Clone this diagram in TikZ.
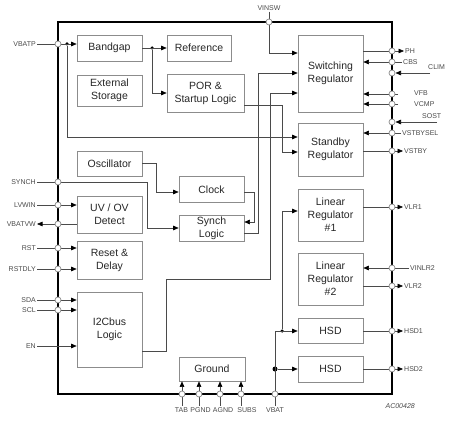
\documentclass[tikz,border=0pt]{standalone}
\usepackage{fontspec}
\setmainfont{Liberation Sans}
\usepackage{tikz}
\usetikzlibrary{arrows.meta}

\definecolor{boxgray}{HTML}{8C8C8C}
\definecolor{linegray}{HTML}{4A4A4A}
\definecolor{txtgray}{HTML}{262626}
\newcommand{\blkfont}{\fontsize{10.5}{13}\selectfont}
\newcommand{\pinfont}{\fontsize{7}{8}\selectfont}

\begin{document}
\begin{tikzpicture}[x=1pt, y=-1pt, >={Triangle[length=5.5pt,width=4.5pt,color=black]},
	blk/.style={draw=boxgray, line width=0.7pt, rectangle, align=center,
		font=\blkfont, text=txtgray, minimum width=65pt, inner sep=0pt},
	pin/.style={circle, draw=boxgray, fill=white, line width=0.7pt,
		inner sep=0pt, minimum size=6pt},
	dot/.style={circle, fill=black, inner sep=0pt, minimum size=3.5pt},
	lbl/.style={font=\pinfont, text=linegray, inner sep=1pt},
	wire/.style={draw=linegray, line width=0.6pt}]
	\useasboundingbox (0,0) rectangle (450,425);

	\def \xl {58}
	\def \xr {392}
	\def \yt {22}
	\def \yb {394}

	\draw[line width=1.8pt] (\xl,\yt) rectangle (\xr,\yb);

	\node[blk, minimum height=26pt] (bandgap)    at (109.5,48)  {Bandgap};
	\node[blk, minimum height=26pt, minimum width=64pt] (reference) at (199,48) {Reference};
	\node[blk, minimum height=31pt] (extstorage) at (109.5,90.5) {External\\Storage};
	\node[blk, minimum height=38pt, minimum width=77pt] (por) at (205.5,93)
		{POR \&\\Startup Logic};
	\node[blk, minimum height=77pt] (switching)  at (330.5,73.5) {Switching\\Regulator};
	\node[blk, minimum height=53pt] (standby)    at (330.5,149.5) {Standby\\Regulator};
	\node[blk, minimum height=52pt] (linear1)    at (330.5,215)  {Linear\\Regulator\\\#1};
	\node[blk, minimum height=52pt] (linear2)    at (330.5,279)  {Linear\\Regulator\\\#2};
	\node[blk, minimum height=25pt] (hsd1)       at (330.5,331)  {HSD};
	\node[blk, minimum height=26pt] (hsd2)       at (330.5,369)  {HSD};
	\node[blk, minimum height=25pt] (oscillator) at (109.5,163.5) {Oscillator};
	\node[blk, minimum height=26pt] (clock)      at (211.5,189.5) {Clock};
	\node[blk, minimum height=26pt] (synch)      at (211.5,228)  {Synch\\Logic};
	\node[blk, minimum height=37pt] (uvov)       at (109.5,214.5) {UV / OV\\Detect};
	\node[blk, minimum height=38pt] (reset)      at (109.5,260)  {Reset \&\\Delay};
	\node[blk, minimum height=75pt] (i2c)        at (109.5,329.5) {I2Cbus\\Logic};
	\node[blk, minimum height=24pt, minimum width=66pt] (ground) at (212,369) {Ground};

	\foreach \nm/\y/\t in {vbatp/44/VBATP, synch/182/SYNCH, lvwin/205/LVWIN,
		vbatvw/224/VBATVW, rst/248/RST, rstdly/269/RSTDLY, sda/300/SDA,
		scl/310/SCL, en/346/EN} {
		\coordinate (p\nm) at (\xl,\y);
		\node[lbl, anchor=east] (l\nm) at (37,\y) {\t};
	}
	\foreach \nm/\y/\x/\ly/\t in {ph/51/404/51/PH, cbs/62/402/62/CBS,
		clim/73/427/67/CLIM, vfb/94/413/93/VFB, vcmp/104/413/104/VCMP,
		sost/122/421/116/SOST, vstbysel/133/401/133/VSTBYSEL,
		vstby/151/403/151/VSTBY, vlr1/207/403/207/VLR1,
		vinlr2/268/409/268/VINLR2, vlr2/286/403/286/VLR2,
		hsd1/331/403/331/HSD1, hsd2/369/403/369/HSD2} {
		\coordinate (p\nm) at (\xr,\y);
		\node[lbl, anchor=west] (l\nm) at (\x,\ly) {\t};
	}
	\foreach \nm/\x/\lx/\t in {tab/182/181.5/TAB, pgnd/199/200.5/PGND,
		agnd/220/223/AGND, subs/241/247/SUBS, vbat/275/275/VBAT} {
		\coordinate (p\nm) at (\x,\yb);
		\node[lbl, anchor=north] (l\nm) at (\lx,406) {\t};
	}
	\coordinate (pvinsw) at (269,\yt);
	\node[lbl] (lvinsw) at (269,8) {VINSW};
	\coordinate (eclim) at (430,73);
	\coordinate (esost) at (437,122);

	\node[dot] (jvbatp) at (67,44) {};
	\node[dot] (jbg) at (152,48) {};
	\node[dot, minimum size=5pt] (jhsd2) at (275,369) {};
	\node[dot] (jhsd1) at (282,331) {};

	\draw[wire] (lvbatp) -- (pvbatp);
	\draw[wire, ->] (pvbatp) -- (bandgap.west |- pvbatp);
	\draw[wire, ->] (jvbatp) |- (standby.west |- 0,137);
	\draw[wire, ->] (bandgap) -- (reference);
	\draw[wire, ->] (jbg) |- (por);
	\draw[wire, ->] (por.east |- 0,105) -- (282,105) |- (standby.west |- 0,152);

	\draw[wire] (lvinsw) -- (pvinsw);
	\draw[wire, ->] (pvinsw) |- (switching.west |- 0,53);
	\draw[wire, ->] (synch.east |- 0,233) -- (258,233) |- (switching.west |- 0,73);
	\draw[wire, ->] (i2c.east |- 0,351) -- (166,351) -- (166,279) -| (270,93)
		-- (switching.west |- 0,93);

	\draw[wire, ->] (oscillator.east) -- (156,163.5) |- (clock.west |- 0,192);
	\draw[wire, ->] (clock.east |- 0,192) -- (254,192) |- (synch.east |- 0,222);
	\draw[wire] (lsynch) -- (psynch);
	\draw[wire, ->] (psynch) -- (147,182) |- (synch);

	\foreach \nm/\bx in {lvwin/uvov, rst/reset, rstdly/reset, sda/i2c, scl/i2c} {
		\draw[wire] (l\nm) -- (p\nm);
		\draw[wire, ->] (p\nm) -- (\bx.west |- p\nm);
	}
	\draw[wire, ->] (uvov.west |- pvbatvw) -- (lvbatvw);
	\draw[wire, ->] (len) -- (i2c.west |- len);

	\foreach \nm/\bx in {ph/switching, vstby/standby, vlr1/linear1,
		vlr2/linear2, hsd1/hsd1, hsd2/hsd2}
		\draw[wire, ->] (\bx.east |- p\nm) -- (l\nm);
	\foreach \nm/\bx in {cbs/switching, vstbysel/standby, vinlr2/linear2}
		\draw[wire, ->] (l\nm) -- (\bx.east |- p\nm);
	\foreach \nm in {vfb, vcmp}
		\draw[wire, ->] ([xshift=6pt]p\nm) -- (switching.east |- p\nm);
	\draw[wire, ->, shorten >=3.5pt] (eclim) -- (pclim);
	\draw[wire, ->, shorten >=3.5pt] (esost) -- (psost);

	\foreach \nm in {tab, pgnd, agnd, subs}
		\draw[wire, ->] (p\nm) -- (ground.south -| p\nm);
	\foreach \nm in {tab, pgnd, agnd, subs, vbat}
		\draw[wire] (p\nm) -- (p\nm |- l\nm.north);
	\draw[wire, ->] (pvbat) -- (275,331) -- (hsd1.west |- 0,331);
	\draw[wire, ->] (jhsd2) -- (hsd2);
	\draw[wire, ->] (jhsd1) |- (linear1.west |- 0,211);

	\foreach \nm in {vbatp, synch, lvwin, vbatvw, rst, rstdly, sda, scl, vinsw,
		ph, cbs, clim, vfb, vcmp, sost, vstbysel, vstby, vlr1, vinlr2, vlr2,
		hsd1, hsd2, tab, pgnd, agnd, subs, vbat}
		\node[pin] (c\nm) at (p\nm) {};

	\node[lbl, font=\pinfont\itshape, anchor=east] (code) at (416,406) {AC00428};
\end{tikzpicture}
\end{document}
